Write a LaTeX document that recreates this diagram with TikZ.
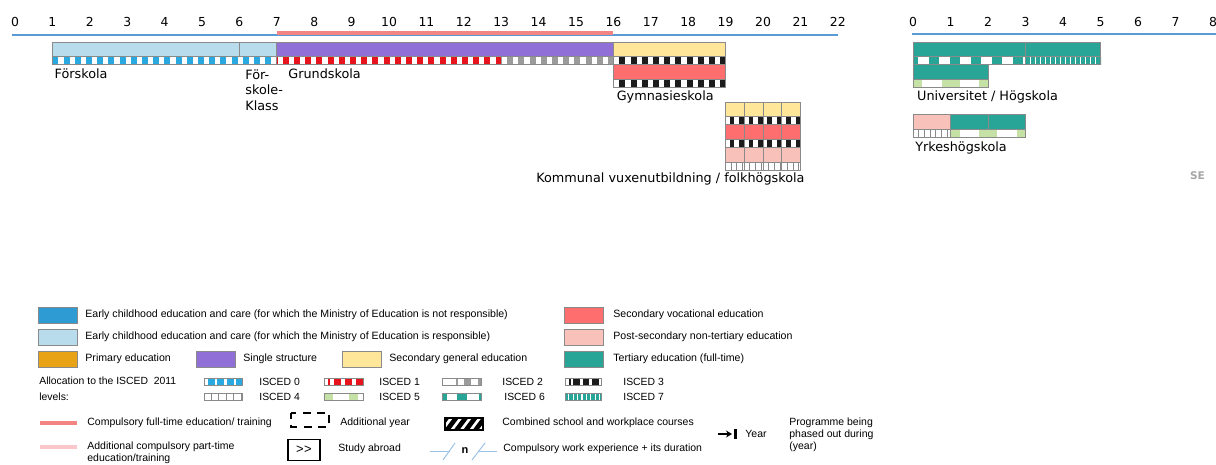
\documentclass[tikz,border=0pt]{standalone}
\usepackage{fontspec}
\setmainfont{Liberation Sans}
\newfontfamily\verdfont{DejaVu Sans}
\usetikzlibrary{arrows.meta}

\definecolor{ecnot}{HTML}{2E9BD2}
\definecolor{ecresp}{HTML}{B8DCEC}
\definecolor{primary}{HTML}{E8A317}
\definecolor{single}{HTML}{9070D6}
\definecolor{secgen}{HTML}{FFE698}
\definecolor{secvoc}{HTML}{FF6E6E}
\definecolor{postsec}{HTML}{F8C1BA}
\definecolor{tert}{HTML}{28A596}
\definecolor{isc0}{HTML}{2AA8E0}
\definecolor{isc1}{HTML}{E8141D}
\definecolor{isc2}{HTML}{9B9B9B}
\definecolor{isc3}{HTML}{1C1C1C}
\definecolor{isc5}{HTML}{C5E1A5}
\definecolor{axisblue}{HTML}{5B9BD5}
\definecolor{compred}{HTML}{F28482}
\definecolor{comppink}{HTML}{F9C6CA}
\definecolor{edgegray}{HTML}{8A8A8A}
\definecolor{workblue}{HTML}{9DC3E6}

\tikzset{
  num/.style={font=\verdfont\fontsize{6.2}{7}\selectfont, inner sep=0pt},
  lbl/.style={font=\verdfont\fontsize{6.4}{7.8}\selectfont, inner sep=0pt, anchor=west, align=left},
  edge/.style={draw=edgegray, line width=0.5pt},
  axis/.style={draw=axisblue, line width=0.6pt},
  compline/.style={draw=compred, line width=2pt},
  band/.style={line width=4pt},
  isced0/.style={band, draw=isc0, dash pattern=on 3pt off 2.6pt},
  isced1/.style={band, draw=isc1, dash pattern=on 3pt off 2.6pt, dash phase=2.6pt},
  isced2/.style={band, draw=isc2, dash pattern=on 3pt off 2.6pt, dash phase=2.6pt},
  isced3/.style={band, draw=isc3, dash pattern=on 3pt off 2.6pt, dash phase=2.6pt},
  isced4/.style={band, draw=edgegray, dash pattern=on 0.4pt off 2.5pt, dash phase=0.4pt},
  isced5/.style={band, draw=isc5, dash pattern=on 9pt off 9.75pt, dash phase=4.5pt},
  isced6/.style={band, draw=tert, dash pattern=on 5pt off 5.5pt, dash phase=2.5pt},
  isced7/.style={band, draw=tert, dash pattern=on 2pt off 0.5pt},
  legbox/.style={draw=edgegray, line width=0.5pt, minimum width=19.5pt, minimum height=8pt, inner sep=0pt},
  legtext/.style={font=\fontsize{5.3}{6}\selectfont, inner sep=0pt, anchor=west},
  legtextb/.style={font=\fontsize{5.25}{6}\selectfont, inner sep=0pt, anchor=west, align=left},
  isctext/.style={font=\fontsize{5.2}{8}\selectfont, inner sep=0pt, anchor=west},
}

\begin{document}
\begin{tikzpicture}[x=0.5pt, y=-0.5pt]
\useasboundingbox (0,0) rectangle (1216,465);

%%%%%%%%%%%%%%%%%Main timeline%%%%%%%%%%%%%%
\begin{scope}[xshift=7.5pt, x=18.7pt]
%Axis
\draw[axis] (-0.08,35) -- (22,35);
\foreach \n in {0,...,22}
  \node[num] (age\n) at (\n,22) {\n};
\draw[compline] (7,33.5) -- (16,33.5);

%Forskola
\draw[edge, fill=ecresp] (1,43) rectangle (6,57);
\draw[edge, fill=ecresp] (6,43) rectangle (7,57);
\draw[isced0] (1,61) -- (7,61);
\draw[edge] (1,57) rectangle (7,65);
\node[lbl] (forskola) at (1.05,74) {Förskola};
\node[lbl, anchor=north west] (fklass) at (6.15,69) {För-\\skole-\\Klass};

%Grundskola
\draw[edge, fill=single] (7,43) rectangle (16,57);
\draw[isced1] (7,61) -- (13,61);
\draw[isced2] (13,61) -- (16,61);
\draw[edge] (7,57) rectangle (16,65);
\node[lbl] (grund) at (7.3,74) {Grundskola};

%Gymnasieskola
\draw[edge, fill=secgen] (16,43) rectangle (19,57);
\draw[isced3] (16,61) -- (19,61);
\draw[edge] (16,57) rectangle (19,65);
\draw[edge, fill=secvoc] (16,65) rectangle (19,80);
\draw[isced3] (16,84) -- (19,84);
\draw[edge] (16,80) rectangle (19,88);
\node[lbl] (gymn) at (16.08,97) {Gymnasieskola};

%Kommunal vuxenutbildning
\foreach \c in {19,19.5,20,20.5}{
  \draw[edge, fill=secgen] (\c,103) rectangle (\c+0.5,117);
  \draw[isced3, dash pattern=on 2.2pt off 2.5pt, dash phase=2.5pt] (\c,121) -- (\c+0.5,121);
  \draw[edge] (\c,117) rectangle (\c+0.5,125);
  \draw[edge, fill=secvoc] (\c,125) rectangle (\c+0.5,140);
  \draw[isced3, dash pattern=on 2.2pt off 2.5pt, dash phase=2.5pt] (\c,144) -- (\c+0.5,144);
  \draw[edge] (\c,140) rectangle (\c+0.5,148);
  \draw[edge, fill=postsec] (\c,148) rectangle (\c+0.5,163);
  \draw[isced4] (\c,167) -- (\c+0.5,167);
  \draw[edge] (\c,163) rectangle (\c+0.5,171);
}
\node[lbl, anchor=east] (komvux) at (21.12,179) {Kommunal vuxenutbildning / folkhögskola};
\end{scope}

%%%%%%%%%%%%%%%%%Tertiary timeline%%%%%%%%%%%%%%
\begin{scope}[xshift=456.5pt, x=18.75pt]
%Axis
\draw[axis] (-0.03,34) -- (8.1,34);
\foreach \n in {0,...,8}
  \node[num] (yr\n) at (\n,22) {\n};

%Universitet
\draw[edge, fill=tert] (0,43) rectangle (3,57);
\draw[edge, fill=tert] (3,43) rectangle (5,57);
\draw[isced6] (0,61) -- (3,61);
\draw[isced7] (3,61) -- (5,61);
\draw[edge] (0,57) rectangle (3,65);
\draw[edge] (3,57) rectangle (5,65);
\draw[edge, fill=tert] (0,65) rectangle (2,80);
\draw[isced5] (0,84) -- (2,84);
\draw[edge] (0,80) rectangle (2,88);
\node[lbl] (univ) at (0.1,97) {Universitet / Högskola};

%Yrkeshogskola
\draw[edge, fill=postsec] (0,115) rectangle (1,130);
\draw[edge, fill=tert] (1,115) rectangle (2,130);
\draw[edge, fill=tert] (2,115) rectangle (3,130);
\draw[isced4] (0,134) -- (1,134);
\draw[isced5] (1,134) -- (3,134);
\draw[edge] (0,130) rectangle (1,138);
\draw[edge] (1,130) rectangle (3,138);
\node[lbl] (yrkes) at (0.05,148) {Yrkeshögskola};
\end{scope}

\node[font=\verdfont\bfseries\fontsize{5.3}{6}\selectfont, text=black!35, inner sep=0pt] (se) at (1197.5,175.5) {SE};

%%%%%%%%%%%%%%%%%Legend%%%%%%%%%%%%%%
\node[legbox, fill=ecnot] (kecnot) at (57.5,315) {};
\node[legtext] (tecnot) at (85,315) {Early childhood education and care (for which the Ministry of Education is not responsible)};
\node[legbox, fill=ecresp] (kecresp) at (57.5,337) {};
\node[legtext] (tecresp) at (85,337) {Early childhood education and care (for which the Ministry of Education is responsible)};
\node[legbox, fill=primary] (kprim) at (57.5,359) {};
\node[legtext] (tprim) at (85,359) {Primary education};
\node[legbox, fill=single] (ksingle) at (216,359) {};
\node[legtext] (tsingle) at (243,359) {Single structure};
\node[legbox, fill=secgen] (ksecgen) at (362,359) {};
\node[legtext] (tsecgen) at (389,359) {Secondary general education};

\node[legbox, fill=secvoc] (ksecvoc) at (584,315) {};
\node[legtext] (tsecvoc) at (613,315) {Secondary vocational education};
\node[legbox, fill=postsec] (kpost) at (584,337) {};
\node[legtext] (tpost) at (613,337) {Post-secondary non-tertiary education};
\node[legbox, fill=tert] (ktert) at (584,359) {};
\node[legtext] (ttert) at (613,359) {Tertiary education (full-time)};

%ISCED levels
\node[isctext, align=left] (talloc) at (39,389) {Allocation to the ISCED\ \ 2011\\levels:};
\draw[isced0, line width=3.5pt, dash pattern=on 3.4pt off 1.3pt] (208,381.5) -- (242,381.5);
\draw[edge] (204,378) rectangle (242,385);
\node[isctext] (t0) at (259,381.5) {ISCED 0};
\draw[isced1, line width=3.5pt, dash pattern=on 3.5pt off 2pt] (328,381.5) -- (363,381.5);
\draw[edge] (324,378) rectangle (363,385);
\node[isctext] (t1) at (379,381.5) {ISCED 1};
\draw[isced2, line width=3.5pt, dash pattern=on 3.5pt off 3.2pt] (456,381.5) -- (481,381.5);
\draw[edge] (442,378) rectangle (481,385);
\node[isctext] (t2) at (502,381.5) {ISCED 2};
\draw[isced3, line width=3.5pt, dash pattern=on 3.4pt off 1.3pt] (569,381.5) -- (601,381.5);
\draw[edge] (565,378) rectangle (601,385);
\node[isctext] (t3) at (623,381.5) {ISCED 3};

\draw[isced4, line width=3.5pt, dash pattern=on 0.5pt off 3.3pt, dash phase=0.5pt] (204,396.5) -- (242,396.5);
\draw[edge] (204,393) rectangle (242,400);
\node[isctext] (t4) at (259,396.5) {ISCED 4};
\draw[isced5, line width=3.5pt, dash pattern=on 4.5pt off 8pt, dash phase=0pt] (324,396.5) -- (363,396.5);
\draw[edge] (324,393) rectangle (363,400);
\node[isctext] (t5) at (379,396.5) {ISCED 5};
\draw[isced6, line width=3.5pt, dash pattern=on 2.5pt off 5pt on 5pt off 6pt, dash phase=0pt] (442,396.5) -- (481,396.5);
\draw[edge] (442,393) rectangle (481,400);
\node[isctext] (t6) at (504,396.5) {ISCED 6};
\draw[isced7, line width=3.5pt, dash pattern=on 1.6pt off 0.6pt] (565,396.5) -- (601,396.5);
\draw[edge] (565,393) rectangle (601,400);
\node[isctext] (t7) at (623,396.5) {ISCED 7};

%Lines
\coordinate (ca) at (40,423);
\coordinate (cb) at (77,423);
\draw[compline] (ca) -- (cb);
\node[legtextb] (tcomp) at (87,423) {Compulsory full-time education/ training};
\coordinate (pa) at (40,447);
\coordinate (pb) at (77,447);
\draw[draw=comppink, line width=2pt] (pa) -- (pb);
\node[legtextb, anchor=north west] (tpart) at (87,441.5) {Additional compulsory part-time\\education/training};

%Additional year, study abroad
\draw[line width=1.3pt, dash pattern=on 4pt off 3.2pt, dash phase=1pt] (291,413) rectangle (329,427);
\node[legtextb] (taddyr) at (340,423) {Additional year};
\node[draw, line width=0.6pt, minimum width=16pt, minimum height=10.5pt, inner sep=0pt,
  font=\fontsize{6.5}{7}\selectfont] (abroad) at (304,450) {\textgreater\kern0.2pt\textgreater};
\node[legtextb] (tabroad) at (338,449) {Study abroad};

%Combined school and workplace
\begin{scope}
\clip (445,418) rectangle (483,430);
\foreach \k in {0,...,5}
  \draw[line width=2.3pt] (436+\k*9.5,432) -- (448+\k*9.5,416);
\end{scope}
\draw[line width=0.6pt] (445,418) rectangle (483,430);
\node[legtextb] (tcomb) at (502,423) {Combined school and workplace courses};

%Work experience
\draw[draw=workblue, line width=0.5pt] (430,451) -- (450,451);
\draw[draw=workblue, line width=0.5pt] (443,460) -- (455,443);
\node[font=\bfseries\fontsize{5.5}{6}\selectfont, inner sep=0pt] (nwork) at (465,451) {n};
\draw[draw=workblue, line width=0.5pt] (472,460) -- (485,443);
\draw[draw=workblue, line width=0.5pt] (478,451) -- (497,451);
\node[legtextb] (twork) at (503,449) {Compulsory work experience + its duration};

%Year
\coordinate (ya) at (718,434);
\coordinate (yb) at (732,434);
\draw[-{Stealth[length=3pt,width=3.5pt]}, line width=0.9pt] (ya) -- (yb);
\draw[line width=1.1pt] (735.5,429) -- (735.5,439);
\node[legtextb] (tyear) at (745,434) {Year};
\node[legtextb, align=left] (tphase) at (789,434.5) {Programme being\\phased out during\\(year)};

\end{tikzpicture}
\end{document}
